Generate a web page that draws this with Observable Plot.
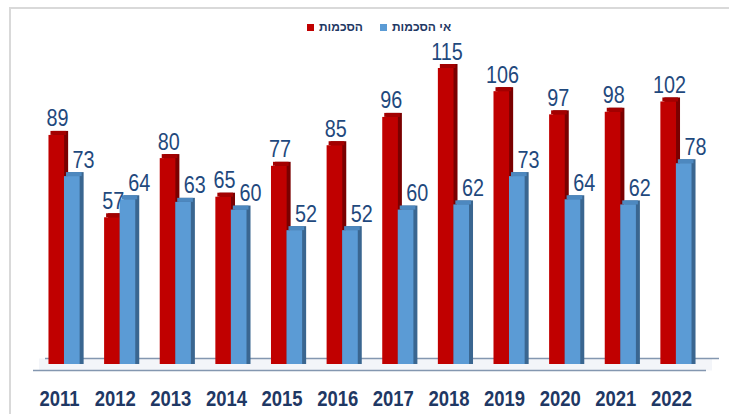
<!DOCTYPE html>
<html><head><meta charset="utf-8">
<script src="https://cdn.jsdelivr.net/npm/d3@7"></script>
<script src="https://cdn.jsdelivr.net/npm/@observablehq/plot@0.6"></script>
<style>
html,body{margin:0;padding:0;overflow:hidden;background:#fff;width:729px;height:414px;}
#frame{position:absolute;left:9px;top:7px;width:760px;height:440px;border:2px solid #D9D9D9;box-sizing:border-box;}
#legend{position:absolute;left:0;top:0;width:729px;height:38px;font-family:"Liberation Sans",Arial,sans-serif;font-size:12px;font-weight:bold;color:#1F3864;}
.item{position:absolute;top:20px;display:flex;align-items:center;gap:5px;}
.sw{width:7px;height:7px;display:inline-block;}
#chart{position:absolute;left:0;top:38px;}
</style></head>
<body>
<div id="frame"></div>
<div id="legend"></div>
<div id="chart"></div>
<script>
const years = ["2011","2012","2013","2014","2015","2016","2017","2018","2019","2020","2021","2022"];
const agreements = [89,57,80,65,77,85,96,115,106,97,98,102];       // הסכמות
const disagreements = [73,64,63,60,52,52,60,62,73,64,62,78];       // אי הסכמות
const seriesNames = ["הסכמות","אי הסכמות"];
const seriesColors = ["#C00000","#5B9BD5"];

const red = years.map((y,i)=>({year:y, value:agreements[i]}));
const blue = years.map((y,i)=>({year:y, value:disagreements[i]}));

// legend
const lg = document.getElementById("legend");
const pos = [307, 380];
seriesNames.forEach((n,i)=>{
  const d = document.createElement("div");
  d.className="item"; d.style.left = pos[i]+"px";
  d.innerHTML = `<span class="sw" style="background:${seriesColors[i]}"></span><span dir="rtl">${n}</span>`;
  lg.appendChild(d);
});

const half = 15.5;
const labelColor = "#1F497D";
const plot = Plot.plot({
  width: 729, height: 376,
  marginLeft: 24, marginRight: 13, marginTop: 30, marginBottom: 50,
  x: {domain: years, padding: 0.44, round: false, axis: null, label: null},
  y: {domain: [0, 115], axis: null},
  style: {fontFamily: "'Liberation Sans', Arial, sans-serif", background: "transparent"},
  marks: [
    // floor
    Plot.ruleY([0], {stroke: "#F3F5F9", strokeWidth: 12, insetLeft: 15, insetRight: 4}),
    Plot.ruleY([0], {stroke: "#8497B0", strokeWidth: 1.5, dy: -6, insetLeft: 21, insetRight: -3}),
    Plot.ruleY([0], {stroke: "#8497B0", strokeWidth: 1.5, dy: 6, insetLeft: 9, insetRight: 10}),
    // red bars (3D)
    Plot.barY(red, {x: "year", y: "value", insetRight: half, dx: 4, dy: -4, insetBottom: -4, fill: "#7A0000"}),
    Plot.barY(red, {x: "year", y1: "value", y2: "value", insetRight: half, insetTop: -4, dx: 2, fill: "#A30000"}),
    Plot.barY(red, {x: "year", y: "value", insetRight: half, fill: "#C00000"}),
    // blue bars (3D)
    Plot.barY(blue, {x: "year", y: "value", insetLeft: half, dx: 4, dy: -4, insetBottom: -4, fill: "#3A6690"}),
    Plot.barY(blue, {x: "year", y1: "value", y2: "value", insetLeft: half, insetTop: -4, dx: 2, fill: "#4D88BF"}),
    Plot.barY(blue, {x: "year", y: "value", insetLeft: half, fill: "#5B9BD5"}),
    // value labels
    Plot.text(red, {x: "year", y: "value", text: d => String(d.value), lineAnchor: "bottom", dx: -7, dy: -9, fill: labelColor, fontSize: 23}),
    Plot.text(blue, {x: "year", y: "value", text: d => String(d.value), lineAnchor: "bottom", dx: 19, dy: -9, fill: labelColor, fontSize: 23}),
    // year labels
    Plot.text(years, {x: d => d, y: () => 0, text: d => d, lineAnchor: "middle", dx: -5, dy: 34, fontSize: 22, fontWeight: "bold", fill: "#1F3864"})
  ]
});
document.getElementById("chart").appendChild(plot);
// condense the text horizontally
d3.select(plot).selectAll("text").each(function(){
  const bold = (this.getAttribute("font-weight")==="bold") || (this.parentNode && this.parentNode.getAttribute("font-weight")==="bold");
  const s = bold ? 0.84 : 0.86;
  const t = this.getAttribute("transform") || "";
  const x = parseFloat(this.getAttribute("x")) || 0;
  this.setAttribute("transform", `${t} translate(${x},0) scale(${s},1) translate(${-x},0)`);
});
</script>
</body></html>
